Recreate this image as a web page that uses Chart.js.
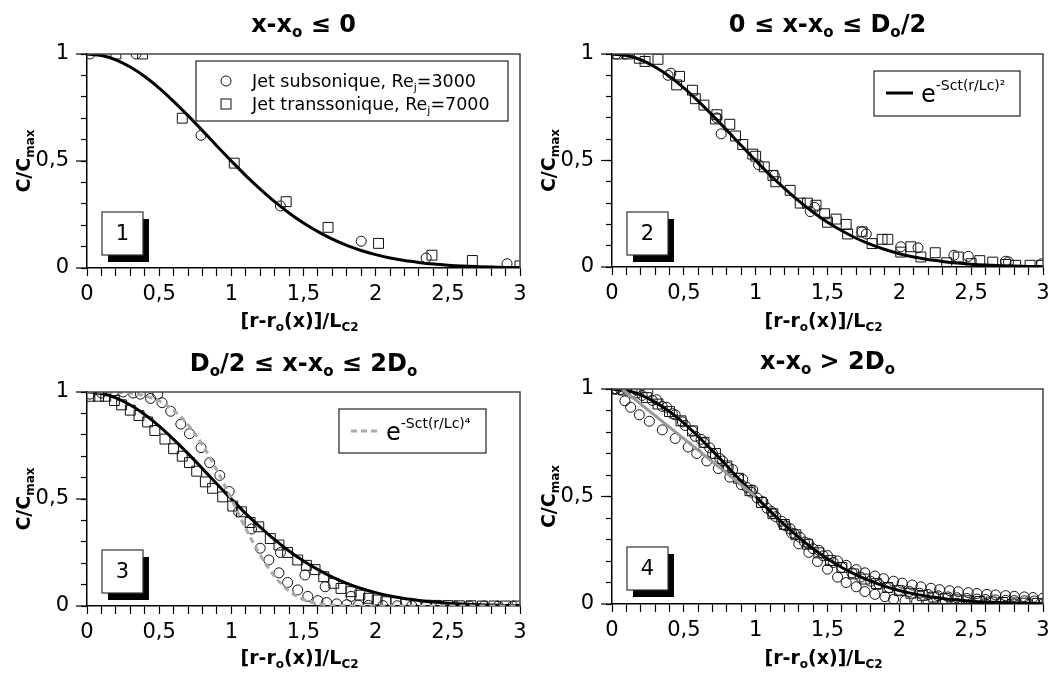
<!DOCTYPE html>
<html>
<head>
<meta charset="utf-8">
<script src="https://cdn.jsdelivr.net/npm/chart.js@4.4.1/dist/chart.umd.min.js"></script>
<style>
  html, body { margin: 0; padding: 0; background: #fff; }
  #wrap { position: relative; width: 1051px; height: 674px; overflow: hidden; }
  canvas { position: absolute; display: block; }
</style>
</head>
<body>
<div id="wrap">
  <canvas id="c1" width="540" height="337" style="left:0;top:0"></canvas>
  <canvas id="c3" width="540" height="337" style="left:0;top:337px"></canvas>
  <canvas id="c2" width="526" height="337" style="left:525px;top:0"></canvas>
  <canvas id="c4" width="526" height="337" style="left:525px;top:337px"></canvas>
</div>
<script>
// ---- axes ----
const xTicks = [0, 0.1, 0.2, 0.3, 0.4, 0.5, 0.6, 0.7, 0.8, 0.9, 1, 1.1, 1.2, 1.3, 1.4, 1.5, 1.6, 1.7, 1.8, 1.9,
                2, 2.1, 2.2, 2.3, 2.4, 2.5, 2.6, 2.7, 2.8, 2.9, 3];
const xMajor = [0, 0.5, 1, 1.5, 2, 2.5, 3];
const xTickLabels = ['0', '0,5', '1', '1,5', '2', '2,5', '3'];
const yTicks = [0, 0.1, 0.2, 0.3, 0.4, 0.5, 0.6, 0.7, 0.8, 0.9, 1];
const yMajor = [0, 0.5, 1];
const yTickLabels = ['0', '0,5', '1'];

// ---- fitted profiles ----
const curveX = [0, 0.1, 0.2, 0.3, 0.4, 0.5, 0.6, 0.7, 0.8, 0.9, 1, 1.1, 1.2, 1.3, 1.4, 1.5, 1.6, 1.7, 1.8, 1.9,
                2, 2.1, 2.2, 2.3, 2.4, 2.5, 2.6, 2.7, 2.8, 2.9, 3];
const gaussY = [1, 0.993, 0.973, 0.939, 0.895, 0.841, 0.779, 0.712, 0.642, 0.57, 0.5, 0.432, 0.369, 0.31, 0.257,
                0.21, 0.17, 0.135, 0.106, 0.082, 0.0625, 0.047, 0.035, 0.026, 0.0185, 0.013, 0.009, 0.0064, 0.0044,
                0.0029, 0.002];
const quartY = [1, 1, 0.999, 0.994, 0.982, 0.958, 0.914, 0.847, 0.753, 0.635, 0.5, 0.362, 0.238, 0.138, 0.07,
                0.03, 0.011, 0.004, 0.001, 0, 0, 0, 0, 0, 0, 0, 0, 0, 0, 0, 0];
const grayLineX = [0.07, 1.0];
const grayLineY = [1.0, 0.5];

// ---- panel 1 : x-xo <= 0 ----
const p1SubX = [0.02, 0.34, 0.79, 1.34, 1.9, 2.35, 2.91];
const p1SubY = [1.0, 1.0, 0.62, 0.29, 0.125, 0.047, 0.02];
const p1TransX = [0.2, 0.385, 0.66, 1.02, 1.38, 1.67, 2.02, 2.39, 2.67, 3.0];
const p1TransY = [1.0, 1.0, 0.7, 0.49, 0.31, 0.19, 0.115, 0.06, 0.035, 0.01];

// ---- panel 2 : 0 <= x-xo <= Do/2 ----
const p2SubX = [0.03, 0.09, 0.39, 0.41, 0.73, 0.76, 1.02, 1.13, 1.38, 1.41, 1.74, 1.77, 2.01, 2.13, 2.38, 2.48,
                2.74, 2.76, 2.99];
const p2SubY = [1.0, 1.0, 0.9, 0.91, 0.7, 0.625, 0.48, 0.43, 0.26, 0.28, 0.165, 0.155, 0.095, 0.09, 0.055, 0.05,
                0.027, 0.024, 0.015];
const p2TransX = [0.04, 0.11, 0.19, 0.23, 0.32, 0.45, 0.47, 0.56, 0.58, 0.64, 0.72, 0.73, 0.82, 0.86, 0.91, 0.98,
                  1.0, 1.06, 1.12, 1.14, 1.24, 1.31, 1.36, 1.42, 1.48, 1.5, 1.56, 1.63, 1.64, 1.74, 1.81, 1.88, 1.92,
                  2.01, 2.08, 2.15, 2.25, 2.33, 2.41, 2.5, 2.56, 2.65, 2.74, 2.81, 2.91, 2.99];
const p2TransY = [1.0, 1.0, 0.98, 0.965, 0.975, 0.855, 0.895, 0.83, 0.79, 0.76, 0.695, 0.715, 0.67, 0.615, 0.575,
                  0.53, 0.52, 0.47, 0.43, 0.4, 0.36, 0.3, 0.3, 0.29, 0.25, 0.21, 0.225, 0.2, 0.155, 0.165, 0.11, 0.13,
                  0.13, 0.07, 0.095, 0.047, 0.067, 0.02, 0.047, 0.016, 0.03, 0.023, 0.012, 0.008, 0.008, 0.008];

// ---- panel 3 : Do/2 <= x-xo <= 2Do ----
const p3SubX = [0.02, 0.1, 0.18, 0.25, 0.32, 0.37, 0.44, 0.49, 0.52, 0.58, 0.65, 0.71, 0.79, 0.85, 0.92, 0.985,
                1.05, 1.14, 1.2, 1.26, 1.33, 1.39, 1.46, 1.53, 1.6, 1.66, 1.73, 1.8, 1.88, 1.95, 2.05, 2.15, 2.25,
                2.35, 2.45, 2.55, 2.65, 2.75, 2.85, 2.95];
const p3SubY = [0.99, 0.995, 1.0, 1.0, 0.995, 0.99, 0.97, 0.99, 0.95, 0.91, 0.85, 0.805, 0.74, 0.67, 0.61, 0.535,
                0.44, 0.36, 0.27, 0.215, 0.155, 0.11, 0.075, 0.045, 0.025, 0.016, 0.01, 0.006, 0.004, 0.003, 0.002,
                0.001, 0.001, 0, 0, 0, 0, 0, 0, 0];
const p3Sub2X = [1.34, 1.51, 1.65, 1.83];
const p3Sub2Y = [0.25, 0.145, 0.09, 0.045];
const p3TransX = [0.02, 0.08, 0.13, 0.19, 0.24, 0.3, 0.36, 0.42, 0.47, 0.54, 0.6, 0.66, 0.71, 0.76, 0.82, 0.87,
                  0.94, 1.01, 1.07, 1.13, 1.19, 1.27, 1.33, 1.39, 1.46, 1.52, 1.58, 1.64, 1.71, 1.76, 1.83, 1.89,
                  1.95, 2.01, 2.07, 2.14, 2.21, 2.28, 2.35, 2.42, 2.5, 2.58, 2.66, 2.74, 2.82, 2.9, 2.98];
const p3TransY = [0.98, 0.98, 0.98, 0.96, 0.94, 0.915, 0.89, 0.86, 0.82, 0.78, 0.735, 0.7, 0.67, 0.63, 0.58, 0.55,
                  0.51, 0.467, 0.44, 0.39, 0.37, 0.315, 0.285, 0.25, 0.215, 0.19, 0.17, 0.137, 0.106, 0.082, 0.067,
                  0.051, 0.036, 0.028, 0.02, 0.016, 0.01, 0.005, 0.004, 0.003, 0.002, 0.001, 0.001, 0, 0, 0, 0];

// ---- panel 4 : x-xo > 2Do ----
const p4SubAX = [0.02, 0.09, 0.13, 0.19, 0.26, 0.35, 0.44, 0.53, 0.59, 0.66, 0.74, 0.82, 0.9, 0.97, 1.05, 1.12,
                 1.19, 1.25, 1.3, 1.37, 1.43, 1.5, 1.57, 1.63, 1.7, 1.76, 1.83, 1.9, 1.96, 2.04, 2.12, 2.2, 2.3, 2.4,
                 2.5, 2.6, 2.7, 2.8, 2.9, 3.0];
const p4SubAY = [1, 0.945, 0.915, 0.88, 0.85, 0.81, 0.77, 0.73, 0.7, 0.665, 0.63, 0.59, 0.555, 0.52, 0.475, 0.42,
                 0.37, 0.33, 0.28, 0.24, 0.198, 0.162, 0.125, 0.1, 0.08, 0.058, 0.045, 0.034, 0.022, 0.016, 0.01,
                 0.007, 0.005, 0.003, 0.002, 0.001, 0.001, 0, 0, 0];
const p4SubBX = [0.03, 0.1, 0.17, 0.25, 0.31, 0.38, 0.44, 0.51, 0.58, 0.64, 0.7, 0.77, 0.84, 0.91, 0.98, 1.05,
                 1.11, 1.18, 1.24, 1.31, 1.37, 1.44, 1.5, 1.57, 1.63, 1.7, 1.76, 1.83, 1.89, 1.96, 2.02, 2.09, 2.15,
                 2.22, 2.28, 2.35, 2.41, 2.48, 2.54, 2.61, 2.67, 2.74, 2.8, 2.87, 2.93, 3.0];
const p4SubBY = [1, 1, 0.995, 0.985, 0.95, 0.915, 0.88, 0.83, 0.78, 0.75, 0.7, 0.665, 0.625, 0.58, 0.53, 0.475,
                 0.43, 0.385, 0.35, 0.31, 0.28, 0.25, 0.225, 0.2, 0.18, 0.16, 0.145, 0.13, 0.118, 0.106, 0.097,
                 0.088, 0.08, 0.073, 0.067, 0.062, 0.057, 0.053, 0.049, 0.045, 0.042, 0.039, 0.036, 0.033, 0.03,
                 0.027];
const p4SubCX = [0.06, 0.14, 0.21, 0.28, 0.35, 0.42, 0.49, 0.56, 0.62, 0.68, 0.75, 0.81, 0.88, 0.94, 1.01, 1.08,
                 1.14, 1.21, 1.27, 1.34, 1.4, 1.47, 1.54, 1.6, 1.67, 1.73, 1.8, 1.86, 1.93, 2.0, 2.07, 2.14, 2.2,
                 2.27, 2.34, 2.4, 2.47, 2.54, 2.6, 2.67, 2.74, 2.8, 2.87, 2.94];
const p4SubCY = [0.998, 0.987, 0.97, 0.947, 0.919, 0.885, 0.847, 0.805, 0.766, 0.726, 0.677, 0.635, 0.585, 0.542,
                 0.493, 0.445, 0.406, 0.363, 0.327, 0.288, 0.257, 0.224, 0.193, 0.17, 0.145, 0.125, 0.106, 0.091,
                 0.076, 0.064, 0.058, 0.05, 0.044, 0.038, 0.033, 0.029, 0.026, 0.023, 0.021, 0.019, 0.017, 0.016,
                 0.015, 0.014];
const p4TransX = [0, 0.08, 0.16, 0.24, 0.32, 0.4, 0.48, 0.56, 0.64, 0.72, 0.8, 0.88, 0.96, 1.04, 1.12, 1.2, 1.28,
                  1.36, 1.44, 1.52, 1.6, 1.68, 1.76, 1.84, 1.92, 2.0, 2.08, 2.16, 2.24, 2.32, 2.4, 2.48, 2.56, 2.64,
                  2.72, 2.8, 2.88, 2.96];
const p4TransY = [1, 0.995, 0.982, 0.96, 0.93, 0.895, 0.852, 0.805, 0.752, 0.7, 0.642, 0.585, 0.527, 0.472, 0.42,
                  0.37, 0.322, 0.278, 0.238, 0.202, 0.17, 0.14, 0.116, 0.095, 0.077, 0.062, 0.05, 0.04, 0.032, 0.025,
                  0.019, 0.015, 0.012, 0.009, 0.007, 0.005, 0.004, 0.003];

// ---- texts ----
const panelTitles = [
  [['x-x'], ['o', 'sub'], [' ≤ 0']],
  [['0 ≤ x-x'], ['o', 'sub'], [' ≤ D'], ['o', 'sub'], ['/2']],
  [['D'], ['o', 'sub'], ['/2 ≤ x-x'], ['o', 'sub'], [' ≤ 2D'], ['o', 'sub']],
  [['x-x'], ['o', 'sub'], [' > 2D'], ['o', 'sub']]
];
const panelNumbers = ['1', '2', '3', '4'];
const yTitle = [['C/C'], ['max', 'sub']];
const xTitle = [['[r-r'], ['o', 'sub'], ['(x)]/L'], ['C2', 'sub']];
const subLabel = [['Jet subsonique, Re'], ['j', 'sub'], ['=3000']];
const transLabel = [['Jet transsonique, Re'], ['j', 'sub'], ['=7000']];
const gaussLabel = [['e'], ['-Sct(r/Lc)²', 'sup']];
const quartLabel = [['e'], ['-Sct(r/Lc)⁴', 'sup']];

const FONT = "'DejaVu Sans', sans-serif";
Chart.defaults.font.family = FONT;
Chart.defaults.color = '#000';

function pts(xs, ys) { return xs.map((x, i) => ({ x: x, y: ys[i] })); }

function circles(xs, ys) {
  return { data: pts(xs, ys), showLine: false, pointStyle: 'circle', pointRadius: 5, borderWidth: 1,
           borderColor: '#111', backgroundColor: 'rgba(0,0,0,0)', order: 2 };
}
function squares(xs, ys) {
  return { data: pts(xs, ys), showLine: false, pointStyle: 'rect', pointRadius: 7, borderWidth: 1,
           borderColor: '#111', backgroundColor: 'rgba(0,0,0,0)', order: 2 };
}
function curve(xs, ys, color, width, dash) {
  return { data: pts(xs, ys), showLine: true, pointRadius: 0, borderColor: color, borderWidth: width,
           borderDash: dash || [], cubicInterpolationMode: 'monotone', fill: false, order: 0 };
}

function drawRich(ctx, parts, x, y, size, weight, align) {
  const fontOf = p => weight + ' ' + (p[1] ? Math.round(size * (p[1] === 'sup' ? 0.58 : 0.62)) : size) + 'px ' + FONT;
  let w = 0;
  parts.forEach(p => { ctx.font = fontOf(p); w += ctx.measureText(p[0]).width; });
  let cx = align === 'center' ? x - w / 2 : x;
  ctx.textAlign = 'left';
  ctx.textBaseline = 'alphabetic';
  parts.forEach(p => {
    ctx.font = fontOf(p);
    const dy = p[1] === 'sub' ? size * 0.2 : (p[1] === 'sup' ? -size * 0.48 : 0);
    ctx.fillText(p[0], cx, y + dy);
    cx += ctx.measureText(p[0]).width;
  });
}

function makeDeco(panel) {
  return {
    id: 'deco',
    afterDraw(chart) {
      const ctx = chart.ctx, a = chart.chartArea;
      ctx.save();
      // frame on top and right
      ctx.strokeStyle = '#444';
      ctx.lineWidth = 1.5;
      ctx.beginPath();
      ctx.moveTo(a.left, a.top);
      ctx.lineTo(a.right, a.top);
      ctx.lineTo(a.right, a.bottom);
      ctx.stroke();
      // longer major ticks on y
      const ys = chart.scales.y;
      ctx.strokeStyle = '#000';
      ctx.lineWidth = 1.2;
      yMajor.forEach(v => {
        const py = ys.getPixelForValue(v);
        ctx.beginPath();
        ctx.moveTo(a.left - 11, py);
        ctx.lineTo(a.left, py);
        ctx.stroke();
      });
      // numbered box with drop shadow
      const bx = a.left + 15, by = a.top + 158;
      ctx.fillStyle = '#000';
      ctx.fillRect(bx + 6, by + 7, 41, 43);
      ctx.fillStyle = '#fff';
      ctx.fillRect(bx, by, 41, 43);
      ctx.strokeStyle = '#333';
      ctx.lineWidth = 1.2;
      ctx.strokeRect(bx, by, 41, 43);
      ctx.fillStyle = '#000';
      ctx.font = '21px ' + FONT;
      ctx.textAlign = 'center';
      ctx.textBaseline = 'middle';
      ctx.fillText(panel.number, bx + 20.5, by + 23);
      // titles
      ctx.fillStyle = '#000';
      drawRich(ctx, panel.title, (a.left + a.right) / 2, panel.titleY, 24, 'bold', 'center');
      drawRich(ctx, xTitle, (a.left + a.right) / 2 - 4, 327, 19, 'bold', 'center');
      ctx.save();
      ctx.translate(30, (a.top + a.bottom) / 2);
      ctx.rotate(-Math.PI / 2);
      drawRich(ctx, yTitle, 0, 0, 19, 'bold', 'center');
      ctx.restore();
      // legends
      if (panel.legend === 'markers') {
        ctx.fillStyle = '#fff';
        ctx.fillRect(196, 61, 312, 60);
        ctx.strokeStyle = '#222';
        ctx.lineWidth = 1.2;
        ctx.strokeRect(196, 61, 312, 60);
        ctx.lineWidth = 1;
        ctx.strokeStyle = '#111';
        ctx.beginPath();
        ctx.arc(226, 81, 5, 0, Math.PI * 2);
        ctx.stroke();
        ctx.strokeRect(221, 99, 10, 10);
        ctx.fillStyle = '#000';
        drawRich(ctx, subLabel, 252, 87, 17.5, 'normal', 'left');
        drawRich(ctx, transLabel, 252, 110, 17.5, 'normal', 'left');
      } else if (panel.legend === 'gauss' || panel.legend === 'quart') {
        const g = panel.legend === 'gauss';
        const lx = g ? 349 : 339, ly = g ? 71 : 72, lw = g ? 146 : 147, lh = g ? 45 : 44;
        ctx.fillStyle = '#fff';
        ctx.fillRect(lx, ly, lw, lh);
        ctx.strokeStyle = '#222';
        ctx.lineWidth = 1.2;
        ctx.strokeRect(lx, ly, lw, lh);
        ctx.strokeStyle = g ? '#000' : '#aaa';
        ctx.lineWidth = 3;
        ctx.setLineDash(g ? [] : [6, 4]);
        ctx.beginPath();
        ctx.moveTo(lx + 12, ly + 22);
        ctx.lineTo(lx + 39, ly + 22);
        ctx.stroke();
        ctx.setLineDash([]);
        ctx.fillStyle = '#000';
        drawRich(ctx, g ? gaussLabel : quartLabel, lx + 47, ly + 31, 24, 'normal', 'left');
      }
      ctx.restore();
    }
  };
}

function labelFor(v, majors, labels) {
  for (let i = 0; i < majors.length; i++) {
    if (Math.abs(v - majors[i]) < 1e-6) return labels[i];
  }
  return '';
}

function build(panel) {
  const canvas = document.getElementById(panel.id);
  const W = canvas.width, H = canvas.height;
  new Chart(canvas, {
    type: 'scatter',
    data: { datasets: panel.datasets },
    options: {
      responsive: false,
      animation: false,
      layout: { padding: { left: 0, top: panel.top, right: W - 520, bottom: 0 } },
      plugins: { legend: { display: false }, tooltip: { enabled: false }, title: { display: false } },
      scales: {
        x: {
          type: 'linear', min: 0, max: 3,
          afterBuildTicks(s) { s.ticks = xTicks.map(v => ({ value: v })); },
          afterFit(s) { s.height = H - panel.bottom; s.paddingLeft = 0; s.paddingRight = 0; },
          ticks: { autoSkip: false, maxRotation: 0, padding: 6, font: { size: 21 },
                   callback: v => labelFor(v, xMajor, xTickLabels) },
          grid: { drawOnChartArea: false, tickLength: 8, tickColor: '#000', tickWidth: 1.2 },
          border: { color: '#000', width: 1.5 }
        },
        y: {
          type: 'linear', min: 0, max: 1,
          afterBuildTicks(s) { s.ticks = yTicks.map(v => ({ value: v })); },
          afterFit(s) { s.width = 87; s.paddingTop = 0; s.paddingBottom = 0; },
          ticks: { autoSkip: false, padding: 12, font: { size: 21 },
                   callback: v => labelFor(v, yMajor, yTickLabels) },
          grid: { drawOnChartArea: false, tickLength: 6, tickColor: '#000', tickWidth: 1.2 },
          border: { color: '#000', width: 1.5 }
        }
      }
    },
    plugins: [makeDeco(panel)]
  });
}

build({ id: 'c1', top: 54, bottom: 268, titleY: 32, title: panelTitles[0], number: panelNumbers[0], legend: 'markers',
  datasets: [curve(curveX, gaussY, '#000', 3), circles(p1SubX, p1SubY), squares(p1TransX, p1TransY)] });
build({ id: 'c2', top: 54, bottom: 267, titleY: 32, title: panelTitles[1], number: panelNumbers[1], legend: 'gauss',
  datasets: [curve(curveX, gaussY, '#000', 3), circles(p2SubX, p2SubY), squares(p2TransX, p2TransY)] });
build({ id: 'c3', top: 55, bottom: 269, titleY: 34, title: panelTitles[2], number: panelNumbers[2], legend: 'quart',
  datasets: [curve(curveX, quartY, '#aaa', 3, [6, 4]), curve(curveX, gaussY, '#000', 3),
             circles(p3SubX, p3SubY), circles(p3Sub2X, p3Sub2Y), squares(p3TransX, p3TransY)] });
build({ id: 'c4', top: 52, bottom: 267, titleY: 32, title: panelTitles[3], number: panelNumbers[3], legend: 'none',
  datasets: [curve(grayLineX, grayLineY, '#999', 3), curve(curveX, gaussY, '#000', 3),
             circles(p4SubAX, p4SubAY), circles(p4SubBX, p4SubBY), circles(p4SubCX, p4SubCY),
             squares(p4TransX, p4TransY)] });
</script>
</body>
</html>
